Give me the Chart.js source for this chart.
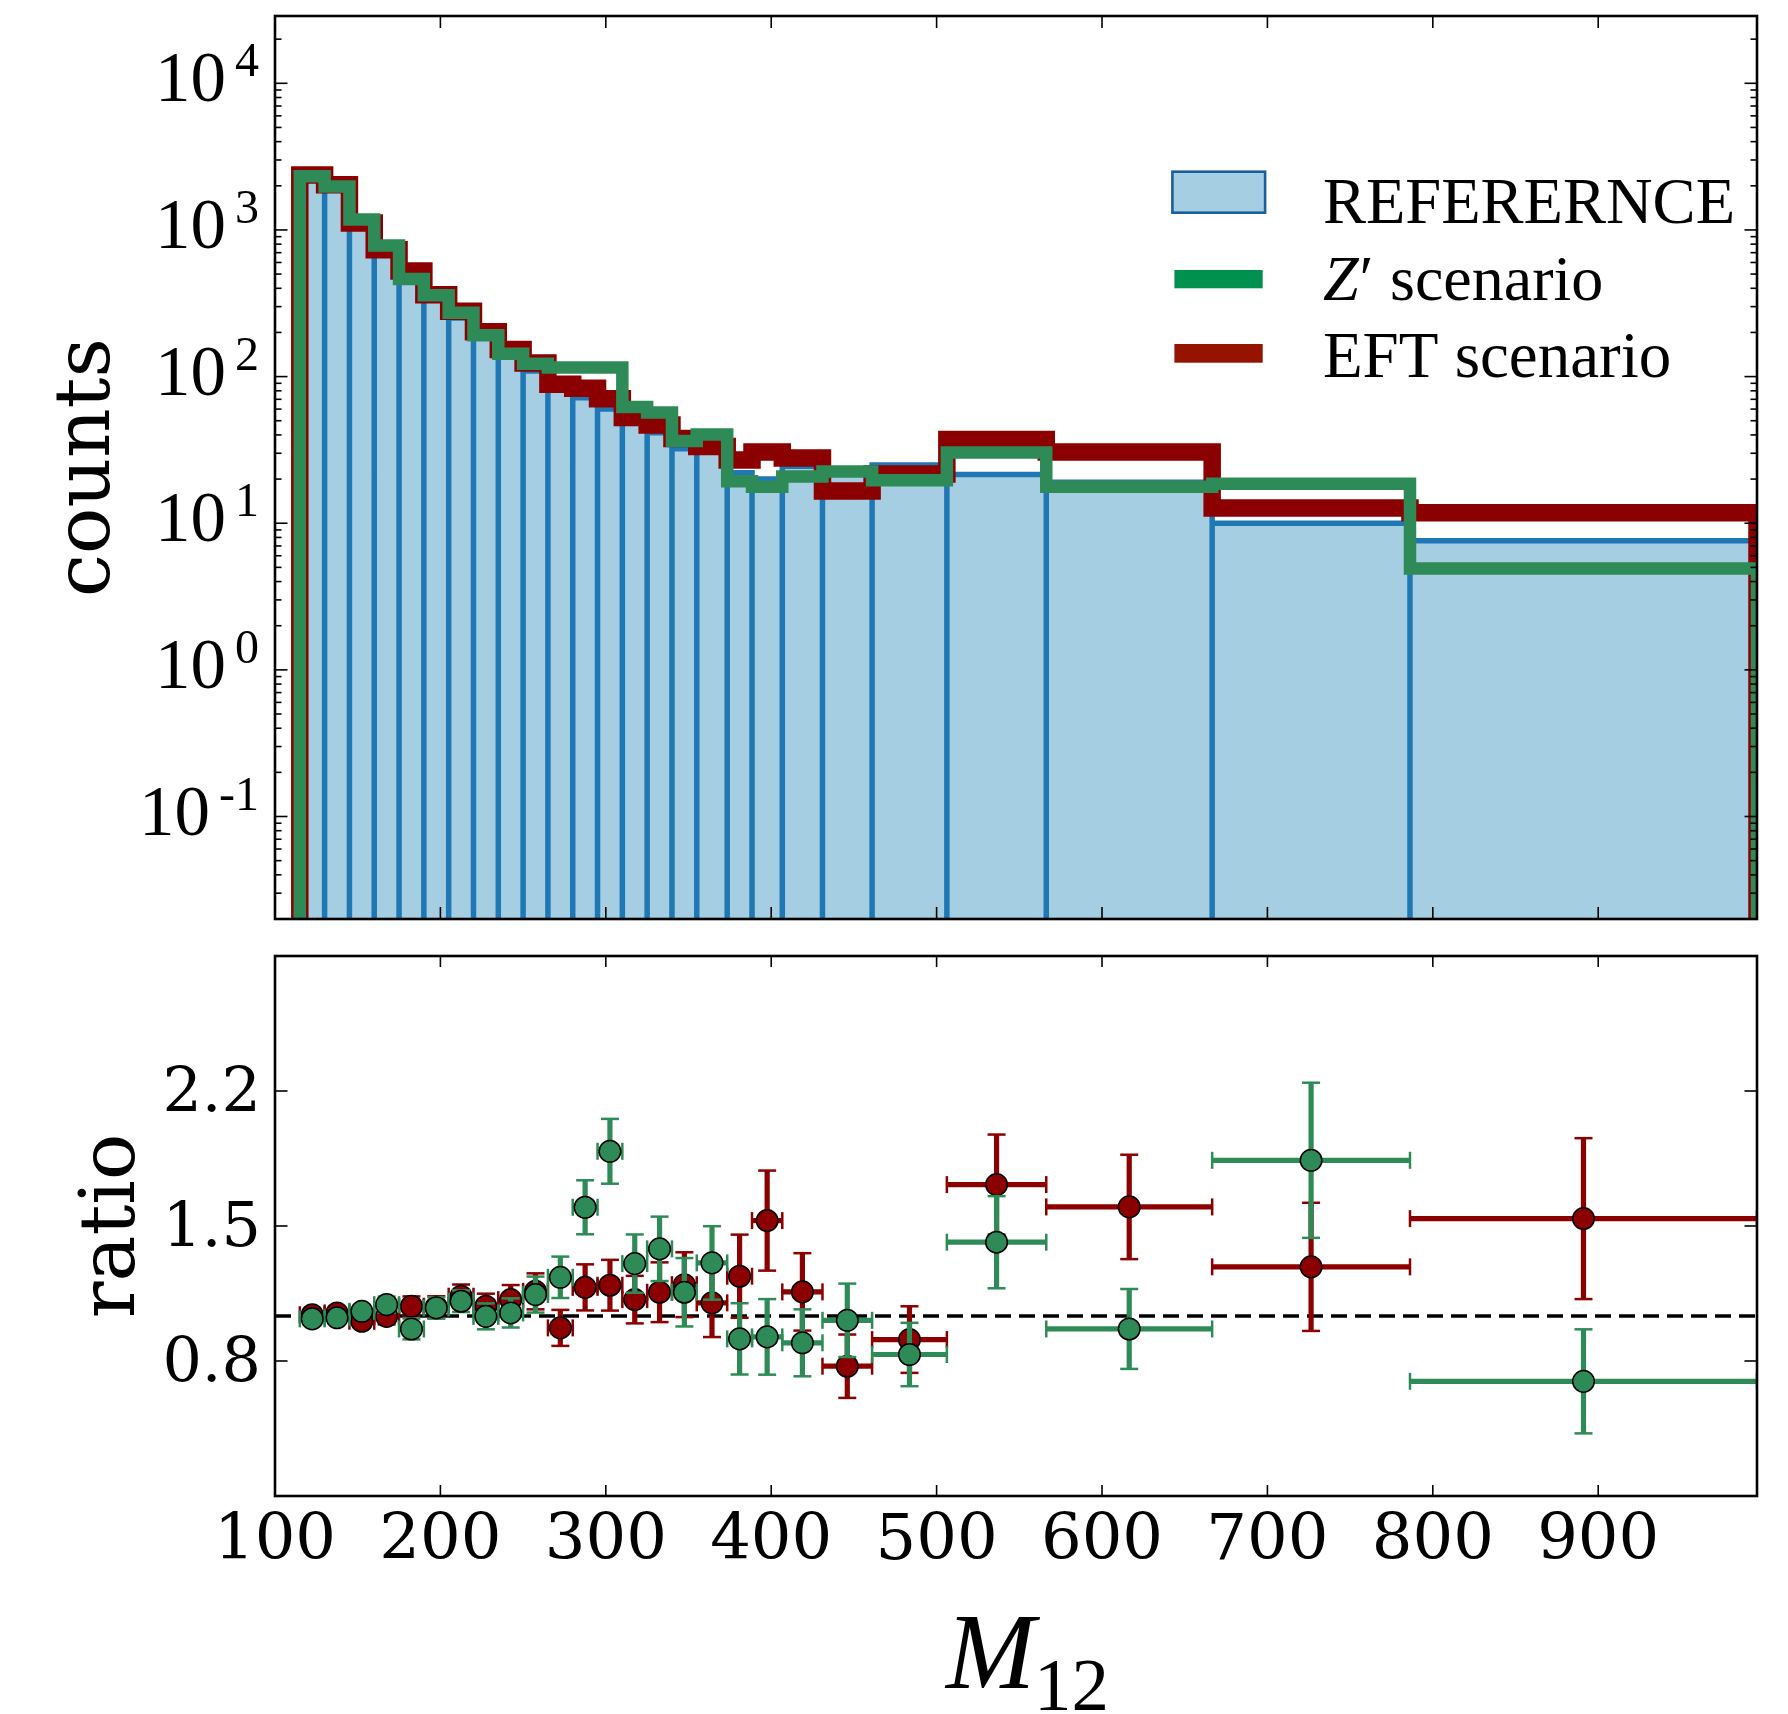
<!DOCTYPE html>
<html><head><meta charset="utf-8">
<script src="https://cdn.jsdelivr.net/npm/chart.js@4.4.0/dist/chart.umd.min.js"></script>
<style>
html,body{margin:0;padding:0;background:#fff;}
#wrap{position:relative;width:1788px;height:1714px;background:#fff;}
canvas{position:absolute;left:0;}
</style></head><body>
<div id="wrap">
<canvas id="cTop" width="1788" height="940" style="top:0px"></canvas>
<canvas id="cBot" width="1788" height="774" style="top:940px"></canvas>
</div>
<script>
// ---------------- data ----------------
const binEdges = [115,130,145,160,175,190,205,220,235,250,265,280,295,310,325,340,355,373.4,388.4,406.7,431,461,506.2,566.3,666.6,786.2,996];
const refCounts = [2346,1997,1146,736,498,344,251,192,140.5,109.2,94.8,71.8,60.2,48.1,41.4,32.2,31.0,22.1,20.0,24.5,23.1,24.9,21.5,19.0,10.0,7.59];
const zprimeCounts = [2323,1977,1176,782,462,359,272,191.5,142.9,122.2,115.2,115.2,115.2,62.1,56.8,36.4,40.2,19.3,17.7,20.8,22.5,19.6,30.3,17.7,18.6,4.91];
const eftCounts = [2370,2031,1113,734,525,361,279,202,153,124,88.5,83.2,70.5,52.5,46.8,37.8,33.3,27.0,30.6,27.8,16.6,21.7,37.2,30.6,12.7,11.8];
const ratioEFT = [1.007,1.017,0.971,0.998,1.054,1.05,1.110,1.054,1.091,1.137,0.934,1.159,1.171,1.091,1.132,1.174,1.073,1.221,1.530,1.134,0.721,0.869,1.730,1.606,1.273,1.541];
const ratioEFTErr = [0.03,0.03,0.035,0.045,0.055,0.06,0.065,0.07,0.081,0.1,0.1,0.128,0.141,0.132,0.166,0.18,0.19,0.231,0.278,0.215,0.176,0.185,0.278,0.29,0.356,0.447];
const ratioZp = [0.984,0.99,1.026,1.063,0.928,1.045,1.082,0.998,1.017,1.119,1.215,1.604,1.915,1.291,1.373,1.132,1.295,0.873,0.884,0.851,0.976,0.786,1.410,0.928,1.865,0.637];
const ratioZpErr = [0.03,0.03,0.035,0.045,0.058,0.06,0.06,0.072,0.081,0.1,0.115,0.15,0.18,0.162,0.179,0.19,0.204,0.198,0.21,0.186,0.204,0.176,0.256,0.222,0.431,0.289];
const xTickValues = [100,200,300,400,500,600,700,800,900];
const logTickExponents = [-1,0,1,2,3,4];
const ratioTickValues = [0.75,1.5,2.25];
const ratioTickLabels = ['0.8','1.5','2.2'];
const legendLabels = ['REFERERNCE','scenario','EFT scenario'];
const X_MIN = 100, X_MAX = 996;
const Y_MIN = 0.02, Y_MAX = 28770;
const R_MIN = 0, R_MAX = 3;
const FLOOR = 0.005;

// ---------------- helpers ----------------
function stepPoints(edges, vals){
  const p=[{x:edges[0],y:FLOOR}];
  for(let i=0;i<vals.length;i++){p.push({x:edges[i],y:vals[i]});p.push({x:edges[i+1],y:vals[i]});}
  p.push({x:edges[edges.length-1],y:FLOOR});
  return p;
}
function barOutlines(edges, vals){
  const p=[];
  for(let i=0;i<vals.length;i++){
    p.push({x:edges[i],y:FLOOR},{x:edges[i],y:vals[i]},{x:edges[i+1],y:vals[i]},{x:edges[i+1],y:FLOOR});
  }
  return p;
}
function line(ctx,x1,y1,x2,y2){ctx.beginPath();ctx.moveTo(x1,y1);ctx.lineTo(x2,y2);ctx.stroke();}
const centers = binEdges.slice(0,-1).map((e,i)=>(e+binEdges[i+1])/2);
const halfW = binEdges.slice(0,-1).map((e,i)=>(binEdges[i+1]-e)/2);

// ---------------- top decorations ----------------
const topDeco = {
  id:'topDeco',
  afterDraw(chart){
    const ctx=chart.ctx, a=chart.chartArea, xs=chart.scales.x, ys=chart.scales.y;
    ctx.save();
    ctx.strokeStyle='#000'; ctx.lineWidth=1.6;
    for(let e=-2;e<=5;e++){
      for(let m=1;m<=9;m++){
        const v=m*Math.pow(10,e);
        if(v<Y_MIN||v>Y_MAX) continue;
        const py=ys.getPixelForValue(v), len=(m===1)?12.5:6.5;
        line(ctx,a.left,py,a.left+len,py);
        line(ctx,a.right,py,a.right-len,py);
      }
    }
    xTickValues.forEach(v=>{
      if(v<=X_MIN) return;
      const px=xs.getPixelForValue(v);
      line(ctx,px,a.bottom,px,a.bottom-12);
      line(ctx,px,a.top,px,a.top+12);
    });
    ctx.lineWidth=2.6;
    ctx.strokeRect(a.left,a.top,a.right-a.left,a.bottom-a.top);
    // y tick labels
    ctx.fillStyle='#000';
    ctx.textAlign='right'; ctx.textBaseline='alphabetic';
    logTickExponents.forEach(ex=>{
      const py=ys.getPixelForValue(Math.pow(10,ex));
      const es = ex<0 ? '-'+(-ex) : String(ex);
      ctx.font='48px "Liberation Serif"';
      const w=ctx.measureText(es).width;
      ctx.fillText(es,259,py+18-25);
      ctx.font='71px "Liberation Serif"';
      ctx.fillText('10',259-w-9,py+18);
    });
    // y label
    ctx.save();
    ctx.translate(109,(a.top+a.bottom)/2);
    ctx.rotate(-Math.PI/2);
    ctx.textAlign='center'; ctx.font='77px "DejaVu Serif"';
    ctx.fillText('counts',0,0);
    ctx.restore();
    // legend
    ctx.fillStyle='#a6cee3'; ctx.fillRect(1172.4,171.7,92.7,41);
    ctx.strokeStyle='#1a5e9e'; ctx.lineWidth=2.6; ctx.strokeRect(1172.4,171.7,92.7,41);
    ctx.fillStyle='#00914f'; ctx.fillRect(1174.4,270,88.3,18.3);
    ctx.fillStyle='#961300'; ctx.fillRect(1174.4,344,88.3,18.7);
    ctx.fillStyle='#000'; ctx.textAlign='left';
    ctx.font='64.5px "Liberation Serif"';
    ctx.fillText(legendLabels[0],1322.9,223.3);
    ctx.font='italic 64px "Liberation Serif"';
    ctx.fillText('Z',1322.9,300);
    const zw=ctx.measureText('Z').width;
    ctx.font='64px "Liberation Serif"';
    ctx.fillText('\u2032',1322.9+zw+1,300);
    ctx.fillText(legendLabels[1],1390,300);
    ctx.font='65px "Liberation Serif"';
    ctx.fillText(legendLabels[2],1322.9,377.3);
    ctx.restore();
  }
};

// ---------------- bottom decorations ----------------
const errColors = {'Zp':'#2e8b57','EFT':'#8b0000'};
const errData = {'Zp':ratioZpErr,'EFT':ratioEFTErr};
const errBars = {
  id:'errBars',
  beforeDatasetDraw(chart,args){
    const ds=chart.data.datasets[args.index];
    const key=ds.label;
    if(!errData[key]) return;
    const ctx=chart.ctx,a=chart.chartArea,xs=chart.scales.x,ys=chart.scales.y;
    ctx.save();
    ctx.beginPath();ctx.rect(a.left,a.top,a.right-a.left,a.bottom-a.top);ctx.clip();
    ctx.strokeStyle=errColors[key]; ctx.lineCap='butt';
    ds.data.forEach((p,i)=>{
      const px=xs.getPixelForValue(p.x), py=ys.getPixelForValue(p.y);
      const xl=xs.getPixelForValue(p.x-halfW[i]), xr=xs.getPixelForValue(p.x+halfW[i]);
      const yt=ys.getPixelForValue(p.y+errData[key][i]), yb=ys.getPixelForValue(p.y-errData[key][i]);
      ctx.lineWidth=5.2;
      line(ctx,xl,py,xr,py); line(ctx,px,yt,px,yb);
      ctx.lineWidth=2.5;
      line(ctx,xl,py-8.5,xl,py+8.5); line(ctx,xr,py-8.5,xr,py+8.5);
      line(ctx,px-9,yt,px+9,yt); line(ctx,px-9,yb,px+9,yb);
    });
    ctx.restore();
  }
};
const botDeco = {
  id:'botDeco',
  afterDraw(chart){
    const ctx=chart.ctx,a=chart.chartArea,xs=chart.scales.x,ys=chart.scales.y;
    ctx.save();
    ctx.strokeStyle='#000'; ctx.lineWidth=1.6;
    ratioTickValues.forEach(v=>{
      const py=ys.getPixelForValue(v);
      line(ctx,a.left,py,a.left+12.5,py); line(ctx,a.right,py,a.right-12.5,py);
    });
    xTickValues.forEach(v=>{
      if(v<=X_MIN) return;
      const px=xs.getPixelForValue(v);
      line(ctx,px,a.bottom,px,a.bottom-11);
      line(ctx,px,a.top,px,a.top+11);
    });
    ctx.lineWidth=2.6;
    ctx.strokeRect(a.left,a.top,a.right-a.left,a.bottom-a.top);
    ctx.fillStyle='#000';
    ctx.font='62px "DejaVu Serif"';
    ctx.textAlign='right'; ctx.textBaseline='alphabetic';
    ratioTickValues.forEach((v,i)=>{
      const py=ys.getPixelForValue(v);
      ctx.fillText(ratioTickLabels[i],261,py+20);
    });
    ctx.font='64px "DejaVu Serif"';
    ctx.textAlign='center';
    xTickValues.forEach(v=>{
      const px=xs.getPixelForValue(v);
      ctx.fillText(String(v),px,619);
    });
    // y label
    ctx.save();
    ctx.translate(134,(a.top+a.bottom)/2);
    ctx.rotate(-Math.PI/2);
    ctx.textAlign='center'; ctx.font='77px "DejaVu Serif"';
    ctx.fillText('ratio',0,0);
    ctx.restore();
    // x label
    ctx.textAlign='left';
    ctx.font='italic 107px "Liberation Serif"';
    ctx.fillText('M',946,747.6);
    ctx.font='75px "Liberation Serif"';
    ctx.fillText('12',1034,770);
    ctx.restore();
  }
};

function build(){
  new Chart(document.getElementById('cTop'),{
    type:'line',
    data:{datasets:[
      {label:'Zp',data:stepPoints(binEdges,zprimeCounts),borderColor:'#2e8b57',borderWidth:12.5,fill:false,pointRadius:0,tension:0,clip:0,order:0},
      {label:'EFT',data:stepPoints(binEdges,eftCounts),borderColor:'#8b0000',borderWidth:17.5,fill:false,pointRadius:0,tension:0,clip:0,order:1},
      {label:'refEdge',data:barOutlines(binEdges,refCounts),borderColor:'#1f78b4',borderWidth:5.5,fill:false,pointRadius:0,tension:0,clip:0,order:2},
      {label:'refFill',data:stepPoints(binEdges,refCounts),borderWidth:0,borderColor:'rgba(0,0,0,0)',backgroundColor:'#a6cee3',fill:'start',pointRadius:0,tension:0,clip:0,order:3}
    ]},
    options:{
      responsive:false,animation:false,events:[],devicePixelRatio:1,
      layout:{padding:{left:275,right:31,top:16,bottom:21}},
      plugins:{legend:{display:false},tooltip:{enabled:false}},
      scales:{
        x:{type:'linear',min:X_MIN,max:X_MAX,display:false},
        y:{type:'logarithmic',min:Y_MIN,max:Y_MAX,display:false}
      }
    },
    plugins:[topDeco]
  });
  new Chart(document.getElementById('cBot'),{
    type:'scatter',
    data:{datasets:[
      {label:'Zp',data:centers.map((c,i)=>({x:c,y:ratioZp[i]})),pointRadius:10.8,pointBackgroundColor:'#2e8b57',pointBorderColor:'#000',pointBorderWidth:1.5,clip:0,order:0},
      {label:'EFT',data:centers.map((c,i)=>({x:c,y:ratioEFT[i]})),pointRadius:10.8,pointBackgroundColor:'#8b0000',pointBorderColor:'#000',pointBorderWidth:1.5,clip:0,order:1},
      {label:'unity',type:'line',data:[{x:X_MIN,y:1},{x:X_MAX,y:1}],borderColor:'#000',borderWidth:3.7,borderDash:[16,8],pointRadius:0,fill:false,clip:0,order:2}
    ]},
    options:{
      responsive:false,animation:false,events:[],devicePixelRatio:1,
      layout:{padding:{left:275,right:31,top:16,bottom:218}},
      plugins:{legend:{display:false},tooltip:{enabled:false}},
      scales:{
        x:{type:'linear',min:X_MIN,max:X_MAX,display:false},
        y:{type:'linear',min:R_MIN,max:R_MAX,display:false}
      }
    },
    plugins:[errBars,botDeco]
  });
}
const fontLoads=['65px "DejaVu Serif"','71px "Liberation Serif"','italic 63px "Liberation Serif"'].map(f=>document.fonts.load(f).catch(()=>null));
Promise.all(fontLoads).then(build,build);
</script>
</body></html>
